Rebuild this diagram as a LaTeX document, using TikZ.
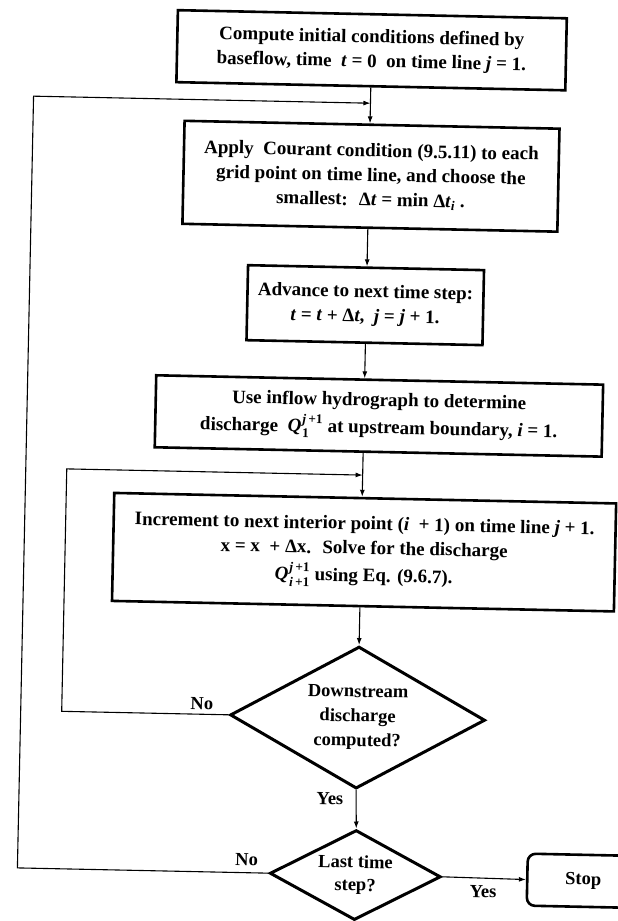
\documentclass[tikz,border=0pt]{standalone}
\usepackage{fontspec}
\usepackage{amsmath}
\setmainfont{Liberation Serif}
\usetikzlibrary{shapes.geometric,arrows.meta}
\newcommand\vi[1]{\textit{#1}}
\begin{document}
\begin{tikzpicture}[x=1pt,y=-1pt,
  box/.style={draw, line width=2.6pt, inner sep=0pt, align=center,
    font=\fontsize{19}{24.5}\selectfont\bfseries},
  dia/.style={diamond, draw, line width=3pt, inner sep=0pt},
  diatext/.style={align=center, font=\fontsize{18.5}{24.5}\selectfont\bfseries},
  conn/.style={line width=1.1pt},
  arr/.style={conn, -{Latex[length=7pt,width=5pt]}},
  lbl/.style={font=\fontsize{18.5}{20}\selectfont\bfseries}]
\useasboundingbox[fill=white] (0,0) rectangle (618,921);
\clip (0,0) rectangle (618,921);
\begin{scope}[rotate around={-1.2:(309,460)}, transform shape]
\node[box, minimum width=389pt, minimum height=72pt] (b1) at (363,49)
  {Compute initial conditions defined by\\
   baseflow, time \ \vi{t} = 0 \ on time line \vi{j} = 1.};
\coordinate (j1) at (363,102);
\node[box, minimum width=375pt, minimum height=103pt] (b2) at (365,175)
  {Apply \ Courant condition (9.5.11) to each\\
   grid point on time line, and choose the\\
   smallest: \ Δ\vi{t} = min Δ\vi{t}$_{\text{\vi{i}}}$ .};
\node[box, minimum width=236pt, minimum height=75pt] (b3) at (362,304)
  {Advance to next time step:\\
   \vi{t} = \vi{t} + Δ\vi{t}, \ \vi{j} = \vi{j} + 1.};
\node[box, minimum width=447pt, minimum height=72pt] (b4) at (378,414.5)
  {Use inflow hydrograph to determine\\[3pt]
   discharge \ \vi{Q}\kern1pt$_{\text{1}}^{\text{\vi{j}\,+1}}$ at upstream boundary, \vi{i} = 1.};
\coordinate (j2) at (363,474);
\node[box, minimum width=502pt, minimum height=108pt] (b5) at (366,551)
  {Increment to next interior point (\vi{i} \ + 1) on time line \vi{j} + 1.\\
   x = x \ + Δx. \ Solve for the discharge\\[3pt]
   \vi{Q}\kern1pt$_{\text{\vi{i}\,+1}}^{\text{\vi{j}\,+1}}$ using Eq. (9.6.7).};
\node[dia, minimum width=255pt, minimum height=142pt] (d1) at (363,716.5) {};
\node[diatext] (d1t) at (d1.center) {Downstream\\discharge\\computed?};
\node[dia, minimum width=171pt, minimum height=90pt] (d2) at (364,874) {};
\node[diatext, font=\fontsize{18.5}{23}\selectfont\bfseries] (d2t) at (d2.center) {Last time\\step?};
\node[draw, line width=2.6pt, rounded corners=8pt, minimum width=112pt,
  minimum height=52pt, font=\fontsize{18.5}{22}\selectfont\bfseries] (stop) at (592,875) {Stop};
\coordinate (o2) at (26,102);
\coordinate (i2) at (67,474);
% connectors
\draw[conn] (b1.south -| j1) -- (j1);
\draw[arr] (j1) -- (b2.north -| j1);
\draw[arr] (b2.south -| j1) -- (b3.north -| j1);
\draw[arr] (b3.south -| j1) -- (b4.north -| j1);
\draw[conn] (b4.south -| j2) -- (j2);
\draw[arr] (j2) -- (b5.north -| j2);
\draw[arr] (b5.south -| d1) -- (d1.north);
\draw[arr] (d1.south) -- (d2.north);
\draw[arr] (d2.east) -- (stop.west);
\draw[arr] (d1.west) -- (d1.west -| i2) -- (i2) -- (j2);
\draw[arr] (d2.west) -- (d2.west -| o2) -- (o2) -- (j1);
% labels
\node[lbl] (no1) at (207,706) {No};
\node[lbl] (yes1) at (337,798) {Yes};
\node[lbl] (no2) at (255,861) {No};
\node[lbl] (yes2) at (492,888) {Yes};
\end{scope}
\end{tikzpicture}
\end{document}
